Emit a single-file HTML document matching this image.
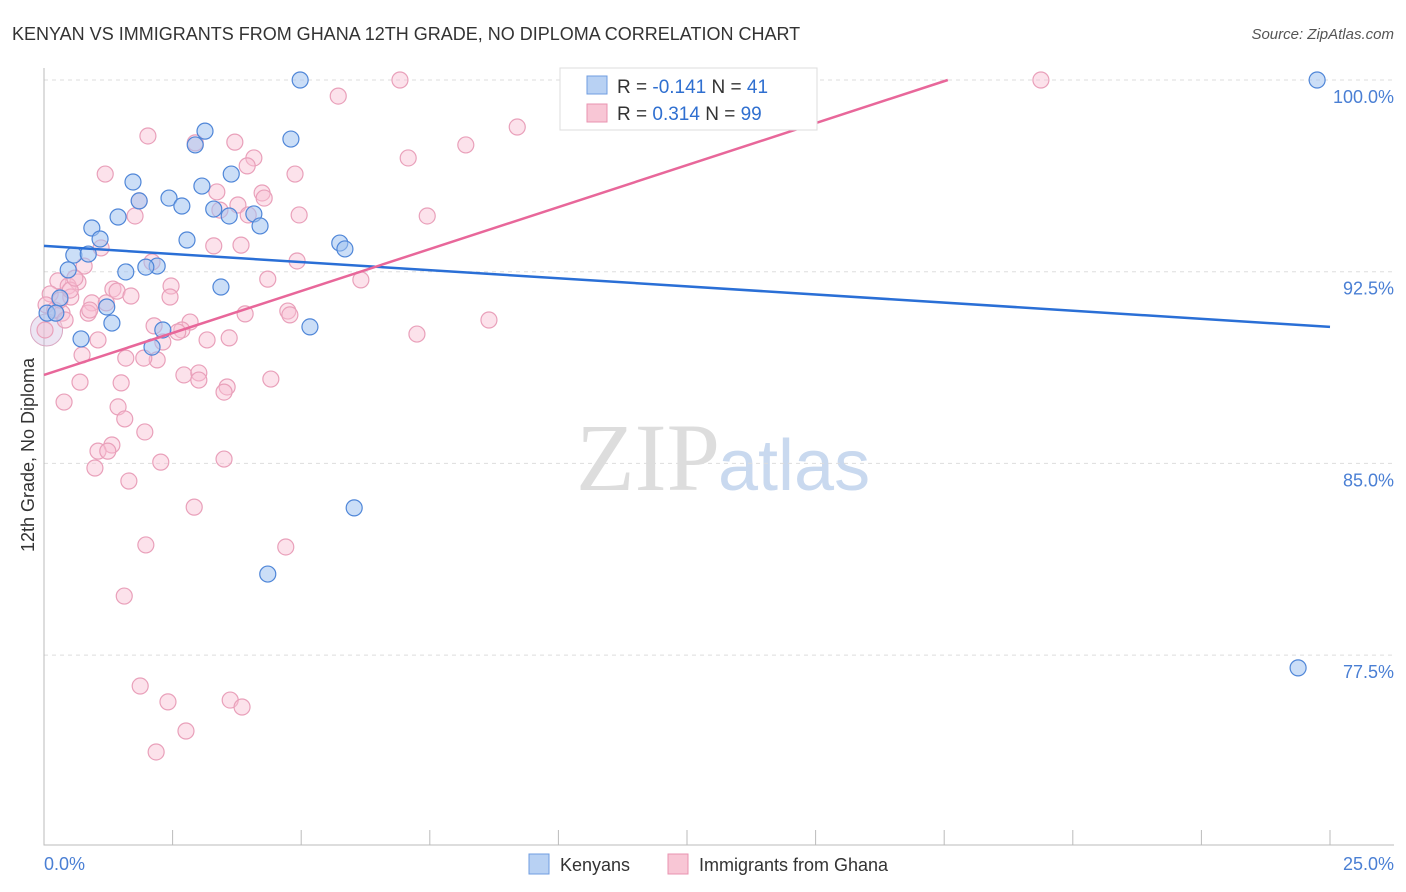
<!DOCTYPE html>
<html><head><meta charset="utf-8"><style>
body{margin:0;background:#fff;font-family:"Liberation Sans",sans-serif}
</style></head><body>
<svg id="c" width="1406" height="892" style="display:block">
<text x="12" y="40" font-size="18" fill="#333">KENYAN VS IMMIGRANTS FROM GHANA 12TH GRADE, NO DIPLOMA CORRELATION CHART</text>
<text x="1394" y="39" font-size="15" fill="#555" font-style="italic" text-anchor="end">Source: ZipAtlas.com</text>
<text x="720" y="490" font-size="96" fill="#ddd" font-family="Liberation Serif,serif" text-anchor="end">ZIP</text>
<text x="718" y="490" font-size="72" fill="#c9d9ef">atlas</text>
<text transform="translate(34,455) rotate(-90)" font-size="18" fill="#333" text-anchor="middle">12th Grade, No Diploma</text>
<g id="grid"></g><g id="pts"></g><g id="trend"></g>
<text x="44" y="870" font-size="18" fill="#4a7fd4">0.0%</text>
<text x="1394" y="870" font-size="18" fill="#4a7fd4" text-anchor="end">25.0%</text>
<g>
<rect x="560" y="68" width="257" height="62" fill="#fff" stroke="#ddd"/>
<rect x="587" y="76" width="20" height="18" fill="#b8d1f3" stroke="#6f9de0"/>
<rect x="587" y="104" width="20" height="18" fill="#f8c6d5" stroke="#e993b0"/>
<text x="617" y="93" font-size="19" fill="#333">R = <tspan fill="#2f6fd0">-0.141</tspan>   N = <tspan fill="#2f6fd0">41</tspan></text>
<text x="617" y="120" font-size="19" fill="#333">R = <tspan fill="#2f6fd0"> 0.314</tspan>   N = <tspan fill="#2f6fd0">99</tspan></text>
</g>
<g>
<rect x="529" y="854" width="20" height="20" fill="#b8d1f3" stroke="#6f9de0"/>
<text x="560" y="871" font-size="18" fill="#333">Kenyans</text>
<rect x="668" y="854" width="20" height="20" fill="#f8c6d5" stroke="#e993b0"/>
<text x="699" y="871" font-size="18" fill="#333">Immigrants from Ghana</text>
</g>
</svg>
<script>
const yTicks=[100,92.5,85,77.5];
const yTickLabels=["100.0%","92.5%","85.0%","77.5%"];
const xTicks=[0,2.5,5,7.5,10,12.5,15,17.5,20,22.5,25];
const blueX=[4.98,10.36,24.75,3.13,4.80,2.94,3.64,1.73,3.07,2.43,1.85,2.68,1.44,3.30,3.60,4.08,4.20,0.93,1.09,2.78,5.75,5.85,0.58,0.86,2.20,1.98,1.59,0.47,3.44,0.31,1.22,0.06,0.23,1.32,5.17,2.31,0.72,2.10,6.03,4.35,24.38];
const blueY=[100,100,100,98.00,97.69,97.46,96.32,96.01,95.85,95.38,95.27,95.07,94.64,94.95,94.68,94.76,94.29,94.21,93.78,93.74,93.62,93.39,93.15,93.19,92.72,92.68,92.49,92.57,91.90,91.47,91.12,90.88,90.88,90.49,90.34,90.22,89.87,89.55,83.26,80.67,77.00];
const pinkX=[6.92,19.38,5.72,9.20,2.02,2.94,3.71,8.20,7.08,4.08,3.95,1.19,4.88,4.24,3.36,4.28,1.85,3.77,3.42,1.77,4.96,7.45,3.97,1.11,3.30,3.83,4.92,0.78,2.10,4.35,6.16,0.27,0.66,2.47,0.47,1.34,1.42,0.12,0.52,1.69,2.45,0.93,1.21,0.04,4.74,4.78,0.86,3.91,0.35,2.84,2.14,2.68,2.60,8.65,7.25,3.60,1.05,3.17,2.31,0.74,1.59,2.20,1.94,2.72,3.01,4.41,0.70,1.50,3.56,3.01,3.50,0.39,1.44,1.57,1.96,1.32,1.05,1.24,0.99,2.27,3.50,1.65,2.92,1.98,4.70,1.56,1.87,2.41,3.62,3.85,2.76,2.18,0.02,0.21,0.31,0.51,0.60,0.89,0.41];
const pinkY=[100,100,99.37,98.16,97.81,97.54,97.57,97.46,96.95,96.95,96.64,96.32,96.32,95.58,95.62,95.38,95.27,95.11,94.91,94.68,94.72,94.68,94.72,93.43,93.51,93.54,92.92,92.72,92.88,92.21,92.18,92.14,92.10,91.94,91.94,91.82,91.74,91.63,91.51,91.55,91.51,91.28,91.28,91.20,90.96,90.81,90.88,90.85,90.88,90.53,90.38,90.22,90.14,90.61,90.06,89.91,89.83,89.83,89.75,89.24,89.12,89.05,89.12,88.46,88.54,88.30,88.18,88.15,87.99,88.26,87.79,87.40,87.21,86.74,86.23,85.72,85.48,85.48,84.82,85.05,85.17,84.31,83.29,81.81,81.73,79.81,76.29,75.67,75.74,75.47,74.53,73.71,90.22,91.00,91.39,91.78,92.25,91.00,90.61];
const blueTrend=[[0,93.51],[25,90.34]];
const pinkTrend=[[0,88.46],[17.57,100]];
const X=v=>44+v*51.44, Y=v=>80+(100-v)*25.56;
const NS="http://www.w3.org/2000/svg";
function mk(t,a,p){const e=document.createElementNS(NS,t);for(const k in a)e.setAttribute(k,a[k]);document.querySelector(p).appendChild(e);return e;}
yTicks.forEach((t,i)=>{
 const l=mk('line',{x1:44,x2:1394,y1:Y(t),y2:Y(t),stroke:'#ddd','stroke-dasharray':'4,4'},'#grid');
 
 
 const tx=mk('text',{x:1394,y:Y(t)+23,'font-size':18,fill:'#4a7fd4','text-anchor':'end'},'#grid');
 tx.textContent=yTickLabels[i];
 
 
});
const ax=mk('path',{d:'M44 68V845H1394',stroke:'#bbb',fill:'none'},'#grid');


xTicks.forEach(t=>{
 const l=mk('line',{x1:X(t),x2:X(t),y1:830,y2:845,stroke:'#bbb'},'#grid');
 
 
});
const big=mk('circle',{cx:X(0.05),cy:Y(90.22),r:16,fill:'rgba(200,180,220,0.35)',stroke:'#d9a9c3'},'#pts');


pinkX.forEach((x,i)=>{
 const c=mk('circle',{cx:X(x),cy:Y(pinkY[i]),r:8,fill:'rgba(248,190,210,0.45)',stroke:'#e9a0ba','stroke-width':1.2},'#pts');
 
 
});
blueX.forEach((x,i)=>{
 const c=mk('circle',{cx:X(x),cy:Y(blueY[i]),r:8,fill:'rgba(160,195,240,0.55)',stroke:'#4f86d8','stroke-width':1.2},'#pts');
 
 
});
const bt=mk('line',{x1:X(blueTrend[0][0]),y1:Y(blueTrend[0][1]),x2:X(blueTrend[1][0]),y2:Y(blueTrend[1][1]),stroke:'#2a6fd6','stroke-width':2.5},'#trend');


const pt=mk('line',{x1:X(pinkTrend[0][0]),y1:Y(pinkTrend[0][1]),x2:X(pinkTrend[1][0]),y2:Y(pinkTrend[1][1]),stroke:'#e8679a','stroke-width':2.5},'#trend');


</script>
</body></html>
